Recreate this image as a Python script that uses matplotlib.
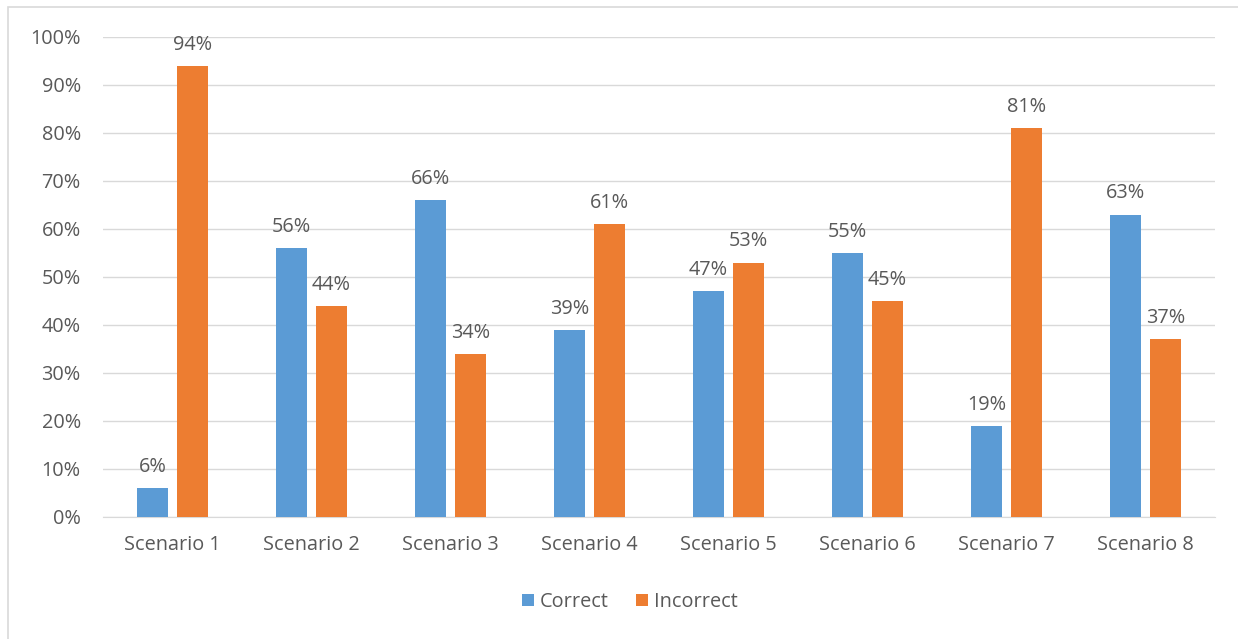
import matplotlib
matplotlib.use("Agg")
import matplotlib.pyplot as plt
import numpy as np
from matplotlib.patches import Rectangle

categories = ["Scenario 1", "Scenario 2", "Scenario 3", "Scenario 4",
              "Scenario 5", "Scenario 6", "Scenario 7", "Scenario 8"]
correct = [6, 56, 66, 39, 47, 55, 19, 63]
incorrect = [94, 44, 34, 61, 53, 45, 81, 37]
series_names = ["Correct", "Incorrect"]
colors = ["#5B9BD5", "#ED7D31"]

W, H = 1238, 639
fig = plt.figure(figsize=(W / 100, H / 100), dpi=100)
plt.rcParams['font.family'] = ['Open Sans', 'DejaVu Sans']
text_color = "#595959"
fs = 14.3

# outer chart border
fig.patches.append(Rectangle((8 / W, -0.05), 1.1, (H - 7) / H + 0.05, transform=fig.transFigure,
                             fill=False, edgecolor="#D9D9D9", linewidth=1.2, zorder=0))

left, right = 103 / W, 1215 / W
bottom, top = 1 - 517 / H, 1 - 37 / H
ax = fig.add_axes([left, bottom, right - left, top - bottom])

x = np.arange(len(categories))
bw = 31 / 139
gap = 9 / 139
off = (bw + gap) / 2
b1 = ax.bar(x - off, correct, bw, color=colors[0], label=series_names[0], zorder=3)
b2 = ax.bar(x + off, incorrect, bw, color=colors[1], label=series_names[1], zorder=3)

for bars, vals in ((b1, correct), (b2, incorrect)):
    for rect, v in zip(bars, vals):
        ax.annotate(f"{v}%", (rect.get_x() + rect.get_width() / 2, v),
                    xytext=(0, 8), textcoords="offset points", ha="center", va="bottom",
                    fontsize=fs, color=text_color)

ax.set_xlim(-0.5, len(categories) - 0.5)
ax.set_ylim(0, 100)
ax.set_yticks(np.arange(0, 101, 10))
ax.set_yticklabels([f"{t}%" for t in range(0, 101, 10)])
ax.set_xticks(x)
ax.set_xticklabels(categories)
ax.tick_params(axis="both", length=0, labelsize=fs, colors=text_color)
ax.tick_params(axis="y", pad=16)
ax.tick_params(axis="x", pad=13)
ax.grid(axis="y", color="#D9D9D9", linewidth=1, zorder=0)
for s in ["top", "right", "left"]:
    ax.spines[s].set_visible(False)
ax.spines["bottom"].set_color("#D9D9D9")

ax.legend(loc="center", bbox_to_anchor=(630 / W, 1 - 602 / H),
          bbox_transform=fig.transFigure, ncol=2, frameon=False, fontsize=fs,
          labelcolor=text_color, handlelength=0.6, handleheight=0.6, handletextpad=0.3,
          columnspacing=1.4)

fig.savefig("out.png", dpi=100)
